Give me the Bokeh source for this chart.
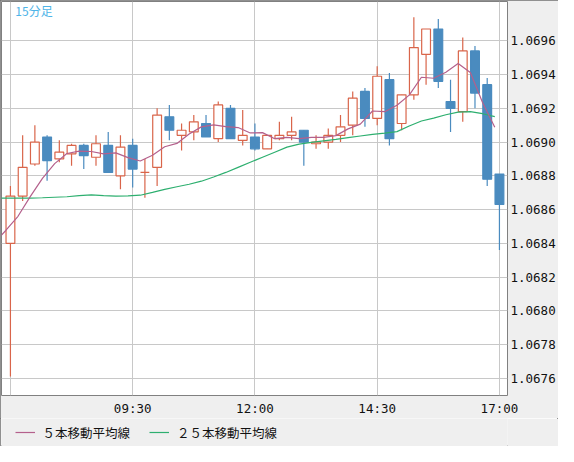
from bokeh.plotting import figure
from bokeh.layouts import column
from bokeh.models import (FixedTicker, PrintfTickFormatter, Label, Legend, LegendItem,
                          ColumnDataSource, Range1d)
from bokeh.embed import file_html
from bokeh.resources import INLINE

# ---- data (15-minute candles, 07:00 .. 17:00) ----
opens = [1.06840, 1.06868, 1.06887, 1.06903, 1.06890, 1.06893, 1.06898, 1.06891, 1.06898, 1.06880,
         1.06898, 1.06882, 1.06885, 1.06915, 1.06904, 1.06906, 1.06911, 1.06902, 1.06920, 1.06901,
         1.06903, 1.06896, 1.06902, 1.06904, 1.06907, 1.06899, 1.06900, 1.06904, 1.06910, 1.06930,
         1.06914, 1.06937, 1.06911, 1.06928, 1.06952, 1.06967, 1.06924, 1.06918, 1.06954, 1.06934,
         1.06881]
highs = [1.06874, 1.06904, 1.06910, 1.06904, 1.06901, 1.06899, 1.06899, 1.06904, 1.06906, 1.06904,
         1.06902, 1.06890, 1.06920, 1.06922, 1.06911, 1.06916, 1.06916, 1.06924, 1.06922, 1.06919,
         1.06911, 1.06904, 1.06912, 1.06915, 1.06907, 1.06904, 1.06908, 1.06916, 1.06930, 1.06932,
         1.06945, 1.06941, 1.06928, 1.06974, 1.06967, 1.06973, 1.06937, 1.06962, 1.06957, 1.06938,
         1.06881]
lows = [1.06761, 1.06865, 1.06886, 1.06877, 1.06888, 1.06886, 1.06884, 1.06886, 1.06882, 1.06872,
        1.06873, 1.06867, 1.06874, 1.06901, 1.06895, 1.06901, 1.06903, 1.06900, 1.06902, 1.06898,
        1.06895, 1.06896, 1.06901, 1.06901, 1.06886, 1.06896, 1.06896, 1.06900, 1.06904, 1.06909,
        1.06910, 1.06898, 1.06907, 1.06925, 1.06934, 1.06932, 1.06906, 1.06912, 1.06920, 1.06874,
        1.06836]
closes = [1.06868, 1.06885, 1.06900, 1.06889, 1.06894, 1.06898, 1.06892, 1.06899, 1.06882, 1.06897,
          1.06884, 1.06882, 1.06916, 1.06907, 1.06907, 1.06912, 1.06903, 1.06922, 1.06902, 1.06904,
          1.06896, 1.06904, 1.06904, 1.06906, 1.06900, 1.06900, 1.06904, 1.06909, 1.06926, 1.06914,
          1.06939, 1.06902, 1.06928, 1.06956, 1.06967, 1.06936, 1.06920, 1.06954, 1.06929, 1.06878,
          1.06863]

# moving averages, one value per bar from the bar before 07:00 to 17:00
ma5 = [1.068398, 1.068476, 1.068560, 1.068677, 1.068785, 1.068872, 1.068932, 1.068946, 1.068944,
       1.068930, 1.068936, 1.068908, 1.068888, 1.068922, 1.068972, 1.068992, 1.069048, 1.069090,
       1.069102, 1.069092, 1.069086, 1.069054, 1.069056, 1.069020, 1.069028, 1.069020, 1.069028,
       1.069028, 1.069038, 1.069078, 1.069106, 1.069184, 1.069180, 1.069218, 1.069278, 1.069384,
       1.069378, 1.069414, 1.069466, 1.069412, 1.069234, 1.069088]
ma25 = [1.068668, 1.068668, 1.068668, 1.068668, 1.068670, 1.068673, 1.068676, 1.068682, 1.068687,
        1.068683, 1.068680, 1.068681, 1.068685, 1.068702, 1.068720, 1.068735, 1.068750, 1.068768,
        1.068793, 1.068820, 1.068850, 1.068880, 1.068910, 1.068940, 1.068970, 1.068988, 1.068998,
        1.069007, 1.069016, 1.069026, 1.069036, 1.069046, 1.069053, 1.069062, 1.069095, 1.069125,
        1.069142, 1.069162, 1.069177, 1.069180, 1.069168, 1.069151]

x_tick_pos = [0, 10, 20, 30, 40]
x_tick_labels = ["", "09:30", "12:00", "14:30", "17:00"]
y_ticks = [1.0676, 1.0678, 1.0680, 1.0682, 1.0684, 1.0686, 1.0688, 1.0690, 1.0692, 1.0694, 1.0696]

title_text = "15分足"
ma5_label = "５本移動平均線"
ma25_label = "２５本移動平均線"

UP = "#d9654a"
DOWN = "#4a8bbf"
MA5_COLOR = "#b4608c"
MA25_COLOR = "#2daf6f"
BG = "#efefef"

# ---- build ----
n = len(opens)
idx = list(range(n))
up = [c >= o for o, c in zip(opens, closes)]
src = ColumnDataSource(dict(
    x=idx,
    top=[max(o, c) for o, c in zip(opens, closes)],
    bottom=[min(o, c) for o, c in zip(opens, closes)],
    high=highs, low=lows,
    line=[UP if u else DOWN for u in up],
    fill=["white" if u else DOWN for u in up],
))
ma_x = [i - 0.38 for i in range(-1, n)]

p = figure(width=558, height=418, output_backend="svg", toolbar_location=None,
           x_range=Range1d(-0.73, 40.66), y_range=Range1d(1.067498, 1.069833),
           y_axis_location="right",
           min_border_left=1, min_border_top=1, min_border_right=50, min_border_bottom=20,
           background_fill_color="white", border_fill_color=BG)

p.outline_line_color = "#808080"
p.outline_line_width = 1

p.xaxis.ticker = FixedTicker(ticks=x_tick_pos)
p.xaxis.major_label_overrides = {t: l for t, l in zip(x_tick_pos, x_tick_labels)}
p.yaxis.ticker = FixedTicker(ticks=y_ticks)
p.yaxis.formatter = PrintfTickFormatter(format="%.4f")
for ax in (p.xaxis, p.yaxis):
    ax.axis_line_color = None
    ax.major_tick_in = 0
    ax.major_tick_out = 0
    ax.minor_tick_in = 0
    ax.minor_tick_out = 0
    ax.major_label_text_font = "DejaVu Sans Mono"
    ax.major_label_text_font_size = "12.5px"
    ax.major_label_text_color = "#111111"
p.yaxis.major_label_standoff = 3
p.xaxis.major_label_standoff = 5

p.xgrid.grid_line_color = "#c8c8c8"
p.ygrid.grid_line_color = "#c8c8c8"
p.xgrid.grid_line_width = 1
p.ygrid.grid_line_width = 1

p.segment(x0="x", y0="low", x1="x", y1="high", line_color="line", line_width=1.2, source=src)
p.vbar(x="x", width=0.72, top="top", bottom="bottom", fill_color="fill",
       line_color="line", line_width=1.2, source=src)

p.line(ma_x, ma25, line_color=MA25_COLOR, line_width=1.2)
p.line(ma_x, ma5, line_color=MA5_COLOR, line_width=1.2)

p.add_layout(Label(x=0.4, y=1.069782, text=title_text, text_font="Noto Sans CJK JP",
                   text_font_size="12px", text_color="#4db4e8", text_baseline="middle"))

# ---- legend strip under the chart (its lines lie outside this strip's ranges) ----
lg = figure(width=558, height=28, output_backend="svg", toolbar_location=None,
            x_range=Range1d(0, 1), y_range=Range1d(-1, 0),
            min_border_left=0, min_border_right=0, min_border_top=0, min_border_bottom=0,
            background_fill_color=BG, border_fill_color=BG)
lg.axis.visible = False
lg.grid.visible = False
lg.outline_line_color = None
l5 = lg.line(ma_x, ma5, line_color=MA5_COLOR, line_width=1.2)
l25 = lg.line(ma_x, ma25, line_color=MA25_COLOR, line_width=1.2)

legend = Legend(items=[LegendItem(label=ma5_label, renderers=[l5]),
                       LegendItem(label=ma25_label, renderers=[l25])],
                orientation="horizontal", location=(13.5, 4.2),
                border_line_color=None, background_fill_alpha=0,
                label_text_font="Noto Sans CJK JP", label_text_font_size="12.5px",
                label_text_color="#111111",
                glyph_width=20, glyph_height=12, label_standoff=8, spacing=19,
                padding=2, margin=0, label_height=16)
lg.add_layout(legend, "center")

layout = column(p, lg, spacing=0)
layout.styles = {"outline": "1px solid #707070", "outline-offset": "-1px"}

open("out.html", "w").write(file_html(layout, INLINE))
